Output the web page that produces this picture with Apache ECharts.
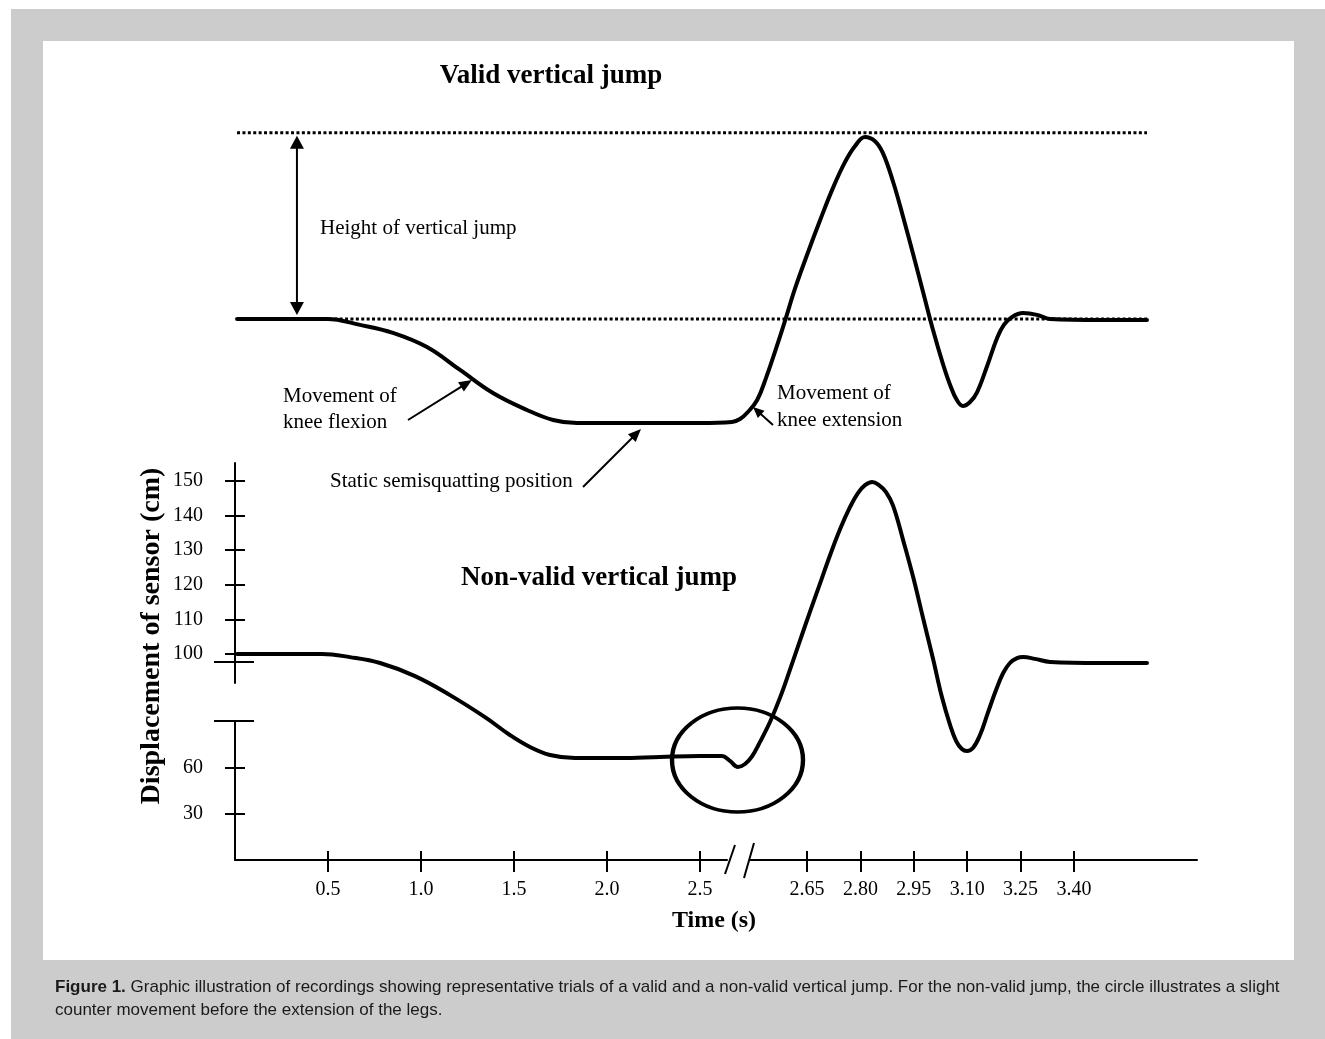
<!DOCTYPE html>
<html><head><meta charset="utf-8">
<script src="https://cdn.jsdelivr.net/npm/echarts@6/dist/echarts.min.js"></script>
<style>html,body{margin:0;padding:0;background:#fff}#c{width:1325px;height:1039px}</style>
</head><body><div id="c"></div>
<script>
// ---------------- data (time in s, displacement in cm) ----------------
const xTicksLeft  = [0.5, 1.0, 1.5, 2.0, 2.5];
const xTicksRight = [2.65, 2.80, 2.95, 3.10, 3.25, 3.40];
const yTicksUpper = [100, 110, 120, 130, 140, 150];
const yTicksLower = [30, 60];

// valid jump: before the time-axis break, then after it
const validLeftT  = [0.011,0.495,0.672,0.849,1.032,1.210,1.387,1.570,1.710,1.839,2.070,2.500,2.672,2.715];
const validLeftV  = [100,100,98.3,96.0,91.9,91.06,86.1,75.0,68.5,66.5,66.5,66.5,67.2,69.1];
const validRightT = [2.484,2.510,2.535,2.560,2.588,2.616,2.650,2.687,2.723,2.757,2.785,2.813,2.841,2.863,2.892,2.920,2.948,2.976,3.004,3.032,3.052,3.071,3.088,3.108,3.128,3.156,3.184,3.203,3.226,3.257,3.296,3.333,3.473,3.605];
const validRightV = [73.7,81.5,90.86,91.52,99.4,108.7,118.5,128.6,137.9,145.4,150.0,152.6,151.4,148.0,139.6,129.5,118.8,107.8,96.8,91.21,90.68,81.5,77.6,80.2,86.7,91.16,94.5,98.3,100.6,101.7,101.2,100,99.7,99.7];

// non-valid jump
const nonValidLeftT  = [0.011,0.468,0.618,0.780,0.968,1.156,1.344,1.478,1.586,1.694,1.828,2.070,2.285,2.500,2.618,2.661,2.704];
const nonValidLeftV  = [100,100,99.1,97.4,93.6,91.31,90.75,81.5,73.7,68.5,66.5,66.5,67.2,67.8,67.8,64.6,60.7];
const nonValidRightT = [2.476,2.496,2.518,2.546,2.574,2.602,2.630,2.658,2.687,2.715,2.743,2.771,2.793,2.813,2.833,2.852,2.872,2.892,2.920,2.948,2.976,3.004,3.029,3.052,3.069,3.085,3.099,3.116,3.136,3.158,3.181,3.201,3.220,3.240,3.257,3.290,3.333,3.473,3.605];
const nonValidRightV = [62.6,67.8,77.0,90.0,91.24,95.4,103.8,112.1,120.5,128.6,136.1,142.5,146.5,148.8,149.7,148.8,146.8,142.8,132.9,122.3,110.4,98.6,91.26,88.0,77.6,72.4,71.1,73.0,81.5,90.86,91.44,94.5,97.4,98.8,99.1,98.6,97.7,97.4,97.4];

const jumpBase = 100;     // standing level of the valid jump
const jumpTop  = 153.8;   // highest point level (dotted line)
const lineStartT = 0.011, lineEndT = 3.605;

// ---------------- broken-axis scales ----------------
const X0 = 235, X_LEFT_END = 727, X_RIGHT_START = 750, X_END = 1197;
const PX_L = 186;                          // px per s before the break
const R_T = 2.65, R_PX = 807, PX_R = 356;  // after the break
const AX_PX = 860, Y_TOP = 463;
const U_PX = 654, PX_CM_U = 3.46;          // upper y segment
const PX_CM_L = 46 / 30;                   // lower y segment (0 at x axis)
const BRK_TOP = 683, BRK_BOT = 721;
const V_UP_MIN = 100 - (BRK_TOP - U_PX) / PX_CM_U;
const V_UP_MAX = 100 + (U_PX - Y_TOP) / PX_CM_U;
const V_LO_MAX = (AX_PX - BRK_BOT) / PX_CM_L;
const VALID_SHIFT = 335;

function xu(t, seg) { return seg === 'L' ? t * PX_L : (R_PX - X0) + (t - R_T) * PX_R; }
function yu(v) {
  let px;
  if (v >= V_UP_MIN) px = U_PX - (v - 100) * PX_CM_U;
  else if (v <= V_LO_MAX) px = AX_PX - v * PX_CM_L;
  else { const f = (v - V_LO_MAX) / (V_UP_MIN - V_LO_MAX); px = BRK_BOT - f * (BRK_BOT - BRK_TOP); }
  return AX_PX - px;
}
function build(lt, lv, rt, rv) {
  return lt.map((t, i) => [xu(t, 'L'), yu(lv[i])]).concat(rt.map((t, i) => [xu(t, 'R'), yu(rv[i])]));
}

const SERIF = '"Liberation Serif", "Times New Roman", serif';
const SANS = '"Liberation Sans", Arial, sans-serif';
const BLACK = '#000';
const U_MAX = AX_PX - Y_TOP;

const tickLine = { color: BLACK, width: 2 };
const labelStyle = { fontFamily: SERIF, fontSize: 20, color: BLACK };

const chart = echarts.init(document.getElementById('c'), null, { renderer: 'canvas', width: 1325, height: 1039 });

const xLMin = 0, xLMax = (X_LEFT_END - X0) / PX_L;
const xRMin = R_T - (R_PX - X_RIGHT_START) / PX_R, xRMax = R_T + (X_END - R_PX) / PX_R;

const option = {
  backgroundColor: '#ffffff',
  animation: false,
  grid: [
    { left: X0, top: Y_TOP, width: X_END - X0, height: U_MAX },
    { left: X0, top: Y_TOP - VALID_SHIFT, width: X_END - X0, height: U_MAX },
    { left: X0, top: Y_TOP, width: 100, height: BRK_TOP - Y_TOP },
    { left: X0, top: BRK_BOT, width: X_LEFT_END - X0, height: AX_PX - BRK_BOT },
    { left: X_RIGHT_START, top: BRK_BOT, width: X_END - X_RIGHT_START, height: AX_PX - BRK_BOT }
  ],
  xAxis: [
    { gridIndex: 0, type: 'value', min: 0, max: X_END - X0, show: false },
    { gridIndex: 1, type: 'value', min: 0, max: X_END - X0, show: false },
    { gridIndex: 2, type: 'value', min: 0, max: 1, show: false },
    { gridIndex: 3, type: 'value', position: 'bottom', min: xLMin, max: xLMax,
      axisLine: { onZero: false, lineStyle: tickLine },
      axisTick: { customValues: xTicksLeft, length: 12, lineStyle: tickLine },
      axisLabel: Object.assign({ customValues: xTicksLeft, margin: 20, formatter: v => v.toFixed(1) }, labelStyle),
      splitLine: { show: false } },
    { gridIndex: 3, type: 'value', position: 'bottom', min: xLMin, max: xLMax,
      axisLine: { show: false, onZero: false },
      axisTick: { customValues: xTicksLeft, inside: true, length: 9, lineStyle: tickLine },
      axisLabel: { show: false }, splitLine: { show: false } },
    { gridIndex: 4, type: 'value', position: 'bottom', min: xRMin, max: xRMax,
      axisLine: { onZero: false, lineStyle: tickLine },
      axisTick: { customValues: xTicksRight, length: 12, lineStyle: tickLine },
      axisLabel: Object.assign({ customValues: xTicksRight, margin: 20, formatter: v => v.toFixed(2) }, labelStyle),
      splitLine: { show: false } },
    { gridIndex: 4, type: 'value', position: 'bottom', min: xRMin, max: xRMax,
      axisLine: { show: false, onZero: false },
      axisTick: { customValues: xTicksRight, inside: true, length: 9, lineStyle: tickLine },
      axisLabel: { show: false }, splitLine: { show: false } }
  ],
  yAxis: [
    { gridIndex: 0, type: 'value', min: 0, max: U_MAX, show: false },
    { gridIndex: 1, type: 'value', min: 0, max: U_MAX, show: false },
    { gridIndex: 2, type: 'value', position: 'left', min: V_UP_MIN, max: V_UP_MAX,
      axisLine: { show: true, onZero: false, lineStyle: tickLine },
      axisTick: { show: true, customValues: yTicksUpper, length: 10, lineStyle: tickLine },
      axisLabel: Object.assign({ customValues: yTicksUpper, margin: 32 }, labelStyle),
      splitLine: { show: false } },
    { gridIndex: 2, type: 'value', position: 'left', min: V_UP_MIN, max: V_UP_MAX,
      axisLine: { show: false, onZero: false },
      axisTick: { show: true, customValues: yTicksUpper, inside: true, length: 10, lineStyle: tickLine },
      axisLabel: { show: false }, splitLine: { show: false } },
    { gridIndex: 3, type: 'value', position: 'left', min: 0, max: V_LO_MAX,
      axisLine: { show: true, onZero: false, lineStyle: tickLine },
      axisTick: { show: true, customValues: yTicksLower, length: 10, lineStyle: tickLine },
      axisLabel: Object.assign({ customValues: yTicksLower, margin: 32 }, labelStyle),
      splitLine: { show: false } },
    { gridIndex: 3, type: 'value', position: 'left', min: 0, max: V_LO_MAX,
      axisLine: { show: false, onZero: false },
      axisTick: { show: true, customValues: yTicksLower, inside: true, length: 10, lineStyle: tickLine },
      axisLabel: { show: false }, splitLine: { show: false } },
    { gridIndex: 4, type: 'value', min: 0, max: 1, show: false }
  ],
  series: [
    { type: 'line', xAxisIndex: 1, yAxisIndex: 1, symbol: 'none', silent: true, clip: false, z: 2,
      data: [[xu(lineStartT, 'L'), yu(jumpBase)], [xu(lineEndT, 'R'), yu(jumpBase)]],
      lineStyle: { color: BLACK, width: 3, type: [3, 2.4], cap: 'butt' } },
    { type: 'line', xAxisIndex: 1, yAxisIndex: 1, symbol: 'none', silent: true, clip: false, z: 2,
      data: [[xu(lineStartT, 'L'), yu(jumpTop)], [xu(lineEndT, 'R'), yu(jumpTop)]],
      lineStyle: { color: BLACK, width: 3, type: [3, 2.4], cap: 'butt' } },
    { name: 'Valid vertical jump', type: 'line', xAxisIndex: 1, yAxisIndex: 1, symbol: 'none', smooth: 0.4,
      clip: false, z: 3, data: build(validLeftT, validLeftV, validRightT, validRightV),
      lineStyle: { color: BLACK, width: 4, join: 'round', cap: 'round' } },
    { name: 'Non-valid vertical jump', type: 'line', xAxisIndex: 0, yAxisIndex: 0, symbol: 'none', smooth: 0.4,
      clip: false, z: 3, data: build(nonValidLeftT, nonValidLeftV, nonValidRightT, nonValidRightV),
      lineStyle: { color: BLACK, width: 4, join: 'round', cap: 'round' } }
  ]
};
chart.setOption(option);

// ---------------- annotations ----------------
function arrowEls(x1, y1, x2, y2, len, half, w, both) {
  const dx = x2 - x1, dy = y2 - y1, L = Math.hypot(dx, dy), ux = dx / L, uy = dy / L;
  const bx = x2 - ux * len, by = y2 - uy * len;
  const ax = x1 + (both ? ux * len : 0), ay = y1 + (both ? uy * len : 0);
  const els = [
    { type: 'line', z: 100, shape: { x1: ax - (both ? ux : 0), y1: ay - (both ? uy : 0), x2: bx + ux, y2: by + uy }, style: { stroke: BLACK, lineWidth: w } },
    { type: 'polygon', z: 100, shape: { points: [[x2, y2], [bx - uy * half, by + ux * half], [bx + uy * half, by - ux * half]] }, style: { fill: BLACK } }
  ];
  if (both) els.push({ type: 'polygon', z: 100, shape: { points: [[x1, y1], [ax - uy * half, ay + ux * half], [ax + uy * half, ay - ux * half]] }, style: { fill: BLACK } });
  return els;
}
function txt(x, y, s, font, align, fill, extra) {
  return Object.assign({ type: 'text', z: 100, x, y, style: { text: s, font, fill: fill || BLACK, align: align || 'left', verticalAlign: 'middle' } }, extra || {});
}

const hb = chart.convertToPixel({ gridIndex: 1 }, [xu(0.333, 'L'), yu(jumpBase)]);
const ht = chart.convertToPixel({ gridIndex: 1 }, [xu(0.333, 'L'), yu(jumpTop)]);

// caption font size fitted to the panel width
const cv = document.createElement('canvas').getContext('2d');
const capBold = 'Figure 1.';
const capRest1 = ' Graphic illustration of recordings showing representative trials of a valid and a non-valid vertical jump. For the non-valid jump, the circle illustrates a slight';
const capLine2 = 'counter movement before the extension of the legs.';
cv.font = 'bold 100px ' + SANS; const wB = cv.measureText(capBold).width;
cv.font = '100px ' + SANS; const wR = cv.measureText(capRest1).width;
const capSize = Math.min(17, 100 * 1238 / (wB + wR));
const capBoldW = wB * capSize / 100;
const CAP = '#1a1a1a';

const fReg = '21px ' + SERIF, fBold = 'bold 27px ' + SERIF;
const graphics = [
  { type: 'rect', z: -10, shape: { x: 11, y: 9, width: 1314, height: 1030 }, style: { fill: '#cccccc' } },
  { type: 'rect', z: -9, shape: { x: 43, y: 41, width: 1251, height: 919 }, style: { fill: '#ffffff' } },
  txt(551, 76, 'Valid vertical jump', fBold, 'center'),
  txt(599, 578, 'Non-valid vertical jump', fBold, 'center'),
  txt(714, 921, 'Time (s)', 'bold 24px ' + SERIF, 'center'),
  txt(152, 636, 'Displacement of sensor (cm)', 'bold 28px ' + SERIF, 'center', BLACK, { rotation: Math.PI / 2 }),
  txt(320, 228, 'Height of vertical jump', fReg),
  txt(283, 396, 'Movement of', fReg),
  txt(283, 422, 'knee flexion', fReg),
  txt(330, 481, 'Static semisquatting position', fReg),
  txt(777, 393, 'Movement of', fReg),
  txt(777, 420, 'knee extension', fReg),
  // y axis break marks
  { type: 'line', z: 100, shape: { x1: 214, y1: 662, x2: 254, y2: 662 }, style: { stroke: BLACK, lineWidth: 2 } },
  { type: 'line', z: 100, shape: { x1: 214, y1: BRK_BOT, x2: 254, y2: BRK_BOT }, style: { stroke: BLACK, lineWidth: 2 } },
  // x axis break marks
  { type: 'line', z: 100, shape: { x1: 725, y1: 874, x2: 735, y2: 845 }, style: { stroke: BLACK, lineWidth: 2 } },
  { type: 'line', z: 100, shape: { x1: 744, y1: 878, x2: 754, y2: 843 }, style: { stroke: BLACK, lineWidth: 2 } },
  // circle around the counter movement
  { type: 'circle', z: 100, x: 737.5, y: 760, scaleX: 65.5 / 52, scaleY: 1, shape: { cx: 0, cy: 0, r: 52 },
    style: { fill: 'none', stroke: BLACK, lineWidth: 3.5, strokeNoScale: true } },
  // caption
  txt(55, 987, capBold, 'bold ' + capSize + 'px ' + SANS, 'left', CAP),
  txt(55 + capBoldW, 987, capRest1, capSize + 'px ' + SANS, 'left', CAP),
  txt(55, 1010, capLine2, capSize + 'px ' + SANS, 'left', CAP)
].concat(
  arrowEls(hb[0], hb[1] - 4, ht[0], ht[1] + 3, 13, 7, 2, true),
  arrowEls(408, 420, 472, 380, 13, 5.5, 2),
  arrowEls(583, 487, 641, 429, 13, 5.5, 2),
  arrowEls(773, 425, 753, 407, 11, 5, 2)
);
chart.setOption({ graphic: { elements: graphics } });
</script></body></html>
